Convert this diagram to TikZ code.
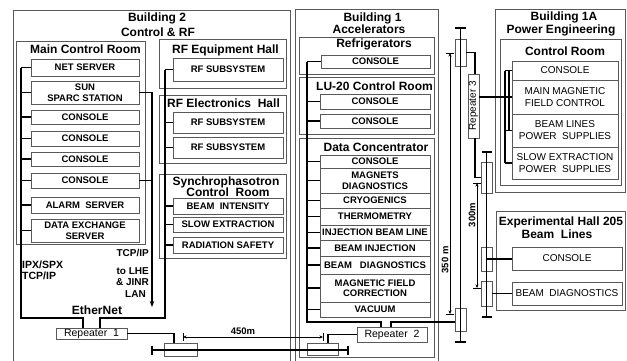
\documentclass[tikz,border=0pt]{standalone}
\usepackage{fontspec}
\setmainfont{Liberation Sans}
\usetikzlibrary{arrows.meta}
\newcommand{\BX}[7][bx]{%
  \pgfmathsetmacro\BXcx{(#3+#5)/2}%
  \pgfmathsetmacro\BXcy{(#4+#6)/2}%
  \pgfmathsetmacro\BXw{#5-#3}%
  \pgfmathsetmacro\BXh{#6-#4}%
  \node[#1, minimum width=\BXw pt, minimum height=\BXh pt] (#2) at (\BXcx,\BXcy) {#7};}
\begin{document}
\begin{tikzpicture}[x=1pt,y=-1pt,
  bxframe/.style={draw=black!65, line width=0.8pt, inner sep=0pt},
  bx/.style={bxframe, fill=white, align=center, font=\bfseries\fontsize{9.5}{10.5}\selectfont},
  rbx/.style={bxframe, fill=white, align=center, font=\fontsize{10}{12}\selectfont},
  segbox/.style={bxframe},
  reptr/.style={bxframe, fill=white, font=\fontsize{10.5}{11}\selectfont},
  ttl/.style={anchor=base, inner sep=0pt, font=\bfseries\fontsize{12}{12}\selectfont},
  note/.style={inner sep=0pt, font=\bfseries\fontsize{10}{10}\selectfont},
  dimtxt/.style={inner sep=0pt, font=\bfseries\fontsize{9.5}{10}\selectfont},
  wire/.style={line width=1.4pt},
  dimline/.style={line width=0.6pt, {Stealth[length=3.5pt,width=3pt]}-{Stealth[length=3.5pt,width=3pt]}},
  dimtick/.style={line width=0.6pt},
]
\useasboundingbox (0,0) rectangle (627,360);
\fill[white] (0,0) rectangle (627,360);

% ---------- containers
\BX[bxframe]{b2}{13}{10}{290}{366}{}
\BX[bxframe]{b1}{295.5}{9}{438}{366}{}
\BX[bxframe]{b1a}{495}{9}{625.5}{192}{}
\BX[bxframe]{ehall}{496}{211}{625.5}{310}{}
\BX[bxframe]{mcr}{16}{41}{145}{244}{}
\BX[bxframe]{rfe}{159}{39}{286}{88}{}
\BX[bxframe]{rfel}{159}{95}{286}{163}{}
\BX[bxframe]{syn}{159}{174}{286}{258}{}
\BX[bxframe]{refr}{299.5}{37}{434}{74}{}
\BX[bxframe]{lu}{299.5}{77}{434}{134}{}
\BX[bxframe]{dc}{299.5}{138}{434}{357}{}
\BX[bxframe]{cr}{500}{39}{621.5}{185}{}

% ---------- titles
\node[ttl] (tb2a) at (157,21) {Building 2};
\node[ttl] (tb2b) at (158,36) {Control \& RF};
\node[ttl] (tmcr) at (85.5,53.6) {Main Control Room};
\node[ttl] (trfe) at (225.5,53.6) {RF Equipment Hall};
\node[ttl] (trfel) at (223.5,107) {RF Electronics\ \ Hall};
\node[ttl] (tsyn1) at (226,185.3) {Synchrophasotron};
\node[ttl] (tsyn2) at (228,196.5) {Control\ \ Room};
\node[ttl] (tb1a) at (372.5,21) {Building 1};
\node[ttl] (tb1b) at (369,33.5) {Accelerators};
\node[ttl] (trefr) at (374,47) {Refrigerators};
\node[ttl] (tlu) at (374.5,90.5) {LU-20 Control Room};
\node[ttl] (tdc) at (376,151.5) {Data Concentrator};
\node[ttl] (tb1aa) at (564,20.5) {Building 1A};
\node[ttl] (tb1ab) at (561,33.6) {Power Engineering};
\node[ttl] (tcr) at (565,55.5) {Control Room};
\node[ttl] (teh1) at (561,225.3) {Experimental Hall 205};
\node[ttl] (teh2) at (557,238) {Beam\ \ Lines};
\node[ttl] (teth) at (97,314) {EtherNet};

% ---------- main control room
\BX{net}{31}{59}{139}{76}{NET SERVER}
\BX{sun}{31}{81}{139}{104}{SUN\\SPARC STATION}
\BX{c1}{31}{110}{139}{124}{CONSOLE}
\BX{c2}{31}{131}{139}{146}{CONSOLE}
\BX{c3}{31}{152}{139}{166}{CONSOLE}
\BX{c4}{31}{173}{139}{188}{CONSOLE}
\BX{alarm}{31}{197}{139}{213}{ALARM\ \ SERVER}
\BX{dex}{31}{219}{139}{242}{DATA EXCHANGE\\SERVER}

% ---------- RF halls
\BX{rf1}{173}{58}{283}{81}{RF SUBSYSTEM}
\BX{rf2}{173}{112}{283}{133}{RF SUBSYSTEM}
\BX{rf3}{173}{137}{283}{158}{RF SUBSYSTEM}
\BX{bi}{173}{198}{283}{214}{BEAM\ \ INTENSITY}
\BX{se}{173}{217}{283}{232}{SLOW EXTRACTION}
\BX{rs}{173}{237}{283}{253}{RADIATION SAFETY}

% ---------- building 1
\BX{rc}{321}{55}{430}{68}{CONSOLE}
\BX{lc1}{320}{94}{430}{109}{CONSOLE}
\BX{lc2}{320}{114}{430}{128}{CONSOLE}
\BX{dcc}{320}{155}{430}{168}{CONSOLE}
\BX{mag}{320}{168}{430}{193}{MAGNETS\\DIAGNOSTICS}
\BX{cryo}{320}{193}{430}{208}{CRYOGENICS}
\BX{therm}{320}{208}{430}{225}{THERMOMETRY}
\BX{ibl}{320}{225}{430}{240}{INJECTION BEAM LINE}
\BX{binj}{320}{240}{430}{256}{BEAM INJECTION}
\BX{bdiag}{320}{256}{430}{274}{BEAM\ \ \ DIAGNOSTICS}
\BX{mfc}{320}{274}{430}{302}{MAGNETIC FIELD\\CORRECTION}
\BX{vac}{320}{302}{430}{317}{VACUUM}

% ---------- building 1A and hall 205
\BX[rbx]{pc}{512}{61}{618}{80}{CONSOLE}
\BX[rbx]{mmfc}{512}{80}{618}{114}{MAIN MAGNETIC\\FIELD CONTROL}
\BX[rbx]{bl}{512}{114}{618}{147}{BEAM LINES\\POWER\ \ SUPPLIES}
\BX[rbx]{ps}{512}{147}{618}{179}{SLOW EXTRACTION\\POWER\ \ SUPPLIES}
\BX[rbx]{ehc}{512}{247}{622}{270}{CONSOLE}
\BX[rbx]{ehb}{512}{282}{622}{305}{BEAM\ \ DIAGNOSTICS}

% ---------- repeaters and cable segments
\BX[reptr]{rep1}{56}{328}{127}{339.5}{Repeater\ \ 1}
\BX[reptr]{rep2}{357}{327.5}{427}{342}{Repeater\ \ 2}
\BX[reptr]{rep3}{468}{74}{479}{138}{}
\node[rotate=90, inner sep=0pt, font=\fontsize{10}{10}\selectfont] (rep3t) at (rep3.center) {Repeater 3};
\BX[segbox]{s1}{164}{343}{197}{356}{}
\BX[segbox]{s2}{307}{343}{338}{355.5}{}
\BX[segbox]{t1a}{455}{39}{466}{66}{}
\BX[segbox]{t1b}{455}{308}{466}{331}{}
\BX[segbox]{t2a}{481}{162}{492}{193}{}
\BX[segbox]{t2b}{481}{247}{492}{271}{}
\BX[segbox]{t2c}{481}{281}{492}{306}{}

% ---------- notes
\node[note, anchor=base east] (ntcp) at (149,256.5) {TCP/IP};
\node[note, anchor=base east] (nlhe1) at (149,274) {to LHE};
\node[note, anchor=base east] (nlhe2) at (149,285.5) {\& JINR};
\node[note, anchor=base east] (nlhe3) at (146,297) {LAN};
\node[note, anchor=base west, font=\bfseries\fontsize{10.5}{10}\selectfont] (nipx) at (22,268) {IPX/SPX};
\node[note, anchor=base west, font=\bfseries\fontsize{10.5}{10}\selectfont] (ntcp2) at (22,279) {TCP/IP};

% ---------- EtherNet (building 2)
\coordinate (mb) at (21,318);
\coordinate (rb) at (165,318);
\draw[wire] (net.west -| mb) -- (mb) -| ([xshift=-8.5pt]rep1.north);
\draw[wire] ([xshift=8.5pt]rep1.north) |- (rb) -- (rf1.west -| rb);
\foreach \n in {net,sun,c1,c2,c3,c4,alarm,dex} \draw[wire] (\n.west) -- (\n.west -| mb);
\foreach \n in {rf1,rf2,rf3,bi,se,rs} \draw[wire] (\n.west) -- (\n.west -| rb);
\coordinate (tcpend) at (152,307);
\draw[wire,-{Stealth[length=6pt,width=4.5pt]}] (sun.east) -| (tcpend);
\draw[wire] (c4.east) -- (c4.east -| tcpend);

% ---------- backbone cable
\draw[wire] (rep1.east) -| ([xshift=-6.5pt]s1.north);
\coordinate (cabL) at (152,350);
\coordinate (cabR) at (348,350);
\draw[wire] (cabL) -- (cabR);
\draw[wire] ([yshift=4.5pt]cabL) -- ([yshift=-4.5pt]cabL);
\draw[wire] ([yshift=4.5pt]cabR) -- ([yshift=-4.5pt]cabR);

% ---------- data concentrator bus
\coordinate (db) at (307,322);
\draw[wire] (rc.west -| db) -- (db) -| ([xshift=-11pt]rep2.north);
\draw[wire] ([xshift=-1pt]rep2.north) |- (t1b.west |- db);
\foreach \n in {rc,lc1,lc2,dcc,mag,cryo,therm,ibl,binj,bdiag,mfc,vac} \draw[wire] (\n.west) -- (\n.west -| db);
\draw[wire] (rep2.west) -| ([xshift=5.5pt]s2.north);

% ---------- trunk 1 (350 m)
\coordinate (t1top) at (460.5,28);
\coordinate (t1bot) at (460.5,342);
\draw[wire] (t1top) -- (t1bot);
\draw[wire] ([xshift=-5.5pt]t1top) -- ([xshift=5.5pt]t1top);
\draw[wire] ([xshift=-5.5pt]t1bot) -- ([xshift=5.5pt]t1bot);
\draw[wire] (t1a.east) -| ([xshift=1.5pt]rep3.north);
\draw[wire] ([xshift=1.5pt]rep3.south) |- (t2a.west);
\draw[wire] (rep3.east |- mmfc.west) -- (mmfc.west);

% ---------- trunk 2 (300 m)
\coordinate (t2top) at (486.5,152);
\coordinate (t2bot) at (486.5,317);
\draw[wire] (t2top) -- (t2bot);
\draw[wire] ([xshift=-5pt]t2top) -- ([xshift=5pt]t2top);
\draw[wire] ([xshift=-5pt]t2bot) -- ([xshift=5pt]t2bot);
\draw[wire] (t2b.center) -- (t2b.center -| ehc.west);
\draw[wire] (t2c.east) -- (t2c.east -| ehb.west);

% ---------- building 1A bus
\coordinate (pb) at (505,0);
\coordinate (pb2) at (509,0);
\draw[wire] (pc.west -| pb) -- (ps.west -| pb);
\draw[wire] (pc.west -| pb2) -- (bl.west -| pb2);
\foreach \n in {pc,bl,ps} \draw[wire] (\n.west) -- (\n.west -| pb);

% ---------- dimensions
\coordinate (d450a) at (183,337);
\coordinate (d450b) at (323,337);
\draw[dimline] (d450a) -- (d450b);
\draw[dimtick] ([yshift=-4pt]d450a) -- ([yshift=4pt]d450a);
\draw[dimtick] ([yshift=-4pt]d450b) -- ([yshift=4pt]d450b);
\node[dimtxt, anchor=base] (l450) at (243,334) {450m};

\coordinate (d350a) at (450,53);
\coordinate (d350b) at (450,314);
\draw[dimline] (d350a) -- (d350b);
\draw[dimtick] ([xshift=-4pt]d350a) -- ([xshift=4pt]d350a);
\draw[dimtick] ([xshift=-4pt]d350b) -- ([xshift=4pt]d350b);
\node[dimtxt, rotate=90] (l350) at (445,260) {350 m};

\coordinate (d300a) at (477,183);
\coordinate (d300b) at (477,288);
\draw[dimline] (d300a) -- (d300b);
\draw[dimtick] ([xshift=-4pt]d300a) -- ([xshift=4pt]d300a);
\draw[dimtick] ([xshift=-4pt]d300b) -- ([xshift=4pt]d300b);
\node[dimtxt, rotate=90] (l300) at (472,215) {300m};
\end{tikzpicture}
\end{document}
